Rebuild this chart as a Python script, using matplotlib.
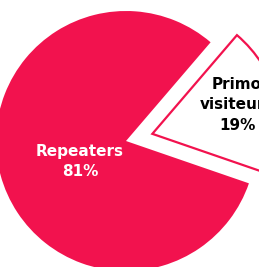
import matplotlib
matplotlib.use("Agg")
import matplotlib.pyplot as plt

labels = ["Repeaters", "Primo\nvisiteurs"]
values = [81, 19]
explode_vals = [0.0, 0.21]

PINK = "#F2124E"

W, H = 259, 267
cx, cy, R = 126, 141, 130

fig = plt.figure(figsize=(W/100, H/100), dpi=100)
ax = fig.add_axes([0, 0, 1, 1])

wedges, _ = ax.pie(values, explode=explode_vals, startangle=49.4, counterclock=True,
                   radius=1.0, center=(0, 0), frame=True,
                   wedgeprops=dict(linewidth=0))
wedges[0].set_facecolor(PINK)
wedges[1].set_facecolor("white")
wedges[1].set_edgecolor(PINK)
wedges[1].set_linewidth(1.6)
ax.set_xlim(-cx/R, (W-cx)/R)
ax.set_ylim(-(H-cy)/R, cy/R)
ax.set_aspect('equal')
ax.axis('off')

ax.text(-0.354, -0.16, f"{labels[0]}\n{values[0]}%", color="white", fontsize=11,
        fontweight="bold", ha="center", va="center", linespacing=1.4)
ax.text(0.854, 0.277, f"{labels[1]}\n{values[1]}%", color="black", fontsize=11,
        fontweight="bold", ha="center", va="center", linespacing=1.45)

fig.savefig("out.png", dpi=100)
